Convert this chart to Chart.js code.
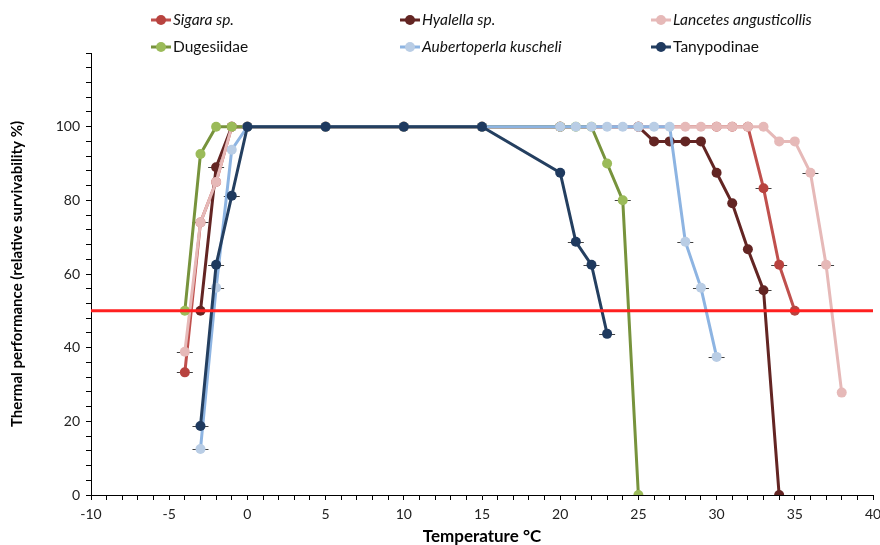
<!DOCTYPE html>
<html>
<head>
<meta charset="utf-8">
<script src="https://cdn.jsdelivr.net/npm/chart.js@4.4.1/dist/chart.umd.min.js"></script>
<style>
  html, body { margin: 0; padding: 0; background: #fff; }
  #wrap { width: 880px; height: 545px; position: relative; }
</style>
</head>
<body>
<div id="wrap"><canvas id="chart"></canvas></div>
<script>
// temperature (°C) vs relative survivability (%)
const sigaraTemp = [-4, -3, -2, -1, 0, 5, 10, 15, 20, 25, 30, 31, 32, 33, 34, 35];
const sigaraPerf = [33.3, 74, 85, 100, 100, 100, 100, 100, 100, 100, 100, 100, 100, 83.3, 62.5, 50];
const sigaraCaps = [-4, 33, 34];

const hyalellaTemp = [-3, -2, -1, 0, 5, 10, 15, 20, 25, 26, 27, 28, 29, 30, 31, 32, 33, 34];
const hyalellaPerf = [50, 89, 100, 100, 100, 100, 100, 100, 100, 96, 96, 96, 96, 87.5, 79.2, 66.7, 55.6, 0];
const hyalellaCaps = [-2, 33];

const lancetesTemp = [-4, -3, -2, -1, 0, 5, 10, 15, 20, 25, 28, 29, 30, 31, 32, 33, 34, 35, 36, 37, 38];
const lancetesPerf = [38.9, 74, 85, 100, 100, 100, 100, 100, 100, 100, 100, 100, 100, 100, 100, 100, 96, 96, 87.5, 62.5, 27.8];
const lancetesCaps = [-4, -3, 36, 37];

const dugesiidaeTemp = [-4, -3, -2, -1, 0, 5, 10, 15, 20, 21, 22, 23, 24, 25];
const dugesiidaePerf = [50, 92.6, 100, 100, 100, 100, 100, 100, 100, 100, 100, 90, 80, 0];
const dugesiidaeCaps = [24];

const aubertoperlaTemp = [-3, -2, -1, 0, 5, 10, 15, 20, 21, 22, 23, 24, 25, 26, 27, 28, 29, 30];
const aubertoperlaPerf = [12.5, 56.25, 93.75, 100, 100, 100, 100, 100, 100, 100, 100, 100, 100, 100, 100, 68.75, 56.25, 37.5];
const aubertoperlaCaps = [-3, -2, 28, 29, 30];

const tanypodinaeTemp = [-3, -2, -1, 0, 5, 10, 15, 20, 21, 22, 23];
const tanypodinaePerf = [18.75, 62.5, 81.25, 100, 100, 100, 100, 87.5, 68.75, 62.5, 43.75];
const tanypodinaeCaps = [-3, -2, -1, 21, 22, 23];

const threshold = 50;
const xRange = [-10, 40];
const yRange = [0, 120];

const FONT = "Lato, 'Open Sans', sans-serif";

function pts(xs, ys) {
  return xs.map((x, i) => ({ x: x, y: ys[i] }));
}

function series(label, xs, ys, caps, line, marker, italic, order) {
  return {
    label: label,
    data: pts(xs, ys),
    caps: caps,
    italic: italic,
    showLine: true,
    borderColor: line,
    backgroundColor: marker,
    pointBackgroundColor: marker,
    pointBorderColor: marker,
    pointRadius: 5,
    pointBorderWidth: 0,
    borderWidth: 3,
    tension: 0,
    order: order,
  };
}

const datasets = [
  series("Sigara sp.", sigaraTemp, sigaraPerf, sigaraCaps, "#C0504D", "#B8433F", true, 7),
  series("Hyalella sp.", hyalellaTemp, hyalellaPerf, hyalellaCaps, "#632523", "#632523", true, 6),
  series("Lancetes angusticollis", lancetesTemp, lancetesPerf, lancetesCaps, "#E6B9B8", "#E6B9B8", true, 5),
  series("Dugesiidae", dugesiidaeTemp, dugesiidaePerf, dugesiidaeCaps, "#77933C", "#9BBB59", false, 4),
  series("Aubertoperla kuscheli", aubertoperlaTemp, aubertoperlaPerf, aubertoperlaCaps, "#8DB4E2", "#B9CDE5", true, 3),
  series("Tanypodinae", tanypodinaeTemp, tanypodinaePerf, tanypodinaeCaps, "#243F60", "#1F3A5F", false, 2),
  {
    label: "threshold",
    data: pts(xRange, [threshold, threshold]),
    showLine: true,
    borderColor: "#FF2020",
    borderWidth: 3,
    pointRadius: 0,
    order: 1,
    isRef: true,
  },
];

// little horizontal dashes through some points (error caps)
const capsPlugin = {
  id: "caps",
  beforeDatasetsDraw(chart) {
    const ctx = chart.ctx;
    const xs = chart.scales.x;
    const ys = chart.scales.y;
    ctx.save();
    ctx.strokeStyle = "#404040";
    ctx.lineWidth = 1;
    chart.data.datasets.forEach((ds) => {
      if (!ds.caps) return;
      ds.caps.forEach((t) => {
        const p = ds.data.find((d) => d.x === t);
        if (!p) return;
        const px = xs.getPixelForValue(p.x);
        const py = Math.round(ys.getPixelForValue(p.y)) + 0.5;
        ctx.beginPath();
        ctx.moveTo(px - 8, py);
        ctx.lineTo(px + 8, py);
        ctx.stroke();
      });
    });
    ctx.restore();
  },
};

// legend laid out as a 3 x 2 grid like the original
const legendPlugin = {
  id: "gridLegend",
  afterDraw(chart) {
    const ctx = chart.ctx;
    const cols = [151, 400, 651];
    const rows = [20, 47];
    ctx.save();
    chart.data.datasets.filter((d) => !d.isRef).forEach((ds, i) => {
      const x = cols[i % 3];
      const y = rows[Math.floor(i / 3)];
      ctx.strokeStyle = ds.borderColor;
      ctx.lineWidth = 3;
      ctx.beginPath();
      ctx.moveTo(x, y);
      ctx.lineTo(x + 20, y);
      ctx.stroke();
      ctx.fillStyle = ds.pointBackgroundColor;
      ctx.beginPath();
      ctx.arc(x + 10, y, 5, 0, Math.PI * 2);
      ctx.fill();
      ctx.fillStyle = "#111";
      ctx.font = (ds.italic ? "italic " : "") + "15.5px " + FONT;
      ctx.textBaseline = "middle";
      ctx.fillText(ds.label, x + 22, y);
    });
    ctx.restore();
  },
};

new Chart(document.getElementById("chart").getContext("2d"), {
  type: "scatter",
  data: { datasets: datasets },
  options: {
    responsive: true,
    maintainAspectRatio: false,
    animation: false,
    layout: { padding: { top: 53, right: 0, left: 0, bottom: 0 } },
    plugins: {
      legend: { display: false },
      tooltip: { enabled: false },
    },
    scales: {
      x: {
        type: "linear",
        min: xRange[0],
        max: xRange[1],
        afterFit: (scale) => {
          scale.height = 50;
          scale.paddingRight = 7;
          scale.paddingLeft = 0;
        },
        border: { display: true, color: "#000", width: 1 },
        grid: { drawOnChartArea: false, drawTicks: true, tickLength: 5, color: "#000" },
        ticks: {
          stepSize: 1,
          autoSkip: false,
          maxRotation: 0,
          padding: 6,
          color: "#222",
          font: { family: FONT, size: 14 },
          callback: (v) => (v % 5 === 0 ? v : ""),
        },
        title: {
          display: true,
          text: "Temperature °C",
          color: "#000",
          padding: 0,
          font: { family: FONT, size: 17, weight: "bold", lineHeight: 1 },
        },
      },
      y: {
        type: "linear",
        min: yRange[0],
        max: yRange[1],
        afterFit: (scale) => { scale.width = 91; },
        border: { display: true, color: "#000", width: 1 },
        grid: { drawOnChartArea: false, drawTicks: true, tickLength: 5, color: "#000" },
        ticks: {
          stepSize: 4,
          autoSkip: false,
          padding: 6,
          color: "#222",
          font: { family: FONT, size: 14 },
          callback: (v) => (v % 20 === 0 && v <= 100 ? v : ""),
        },
        title: {
          display: true,
          text: "Thermal performance (relative survivability %)",
          color: "#000",
          padding: { top: 10, bottom: 0 },
          font: { family: FONT, size: 15, weight: "bold", lineHeight: 1 },
        },
      },
    },
  },
  plugins: [capsPlugin, legendPlugin],
});
</script>
</body>
</html>
